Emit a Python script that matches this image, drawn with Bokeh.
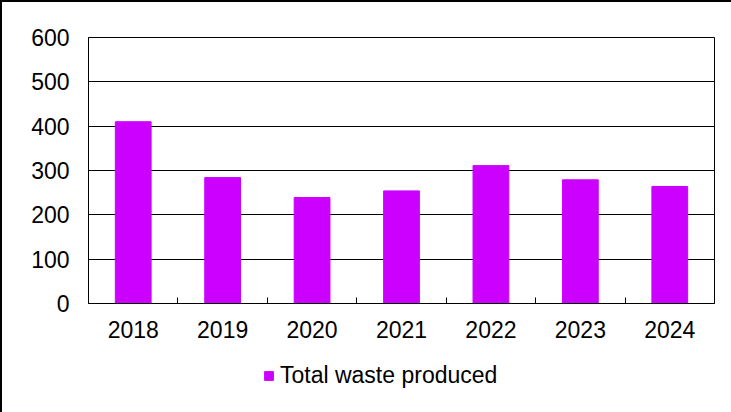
from bokeh.plotting import figure
from bokeh.layouts import column
from bokeh.models import FixedTicker, Legend, LegendItem, Range1d
from bokeh.embed import file_html
from bokeh.resources import INLINE

years = ["2018", "2019", "2020", "2021", "2022", "2023", "2024"]
waste = [410, 284, 239, 254, 311, 279, 264]
y_ticks = [0, 100, 200, 300, 400, 500, 600]
series_name = "Total waste produced"

FONT = "Liberation Sans"
FSIZE = "23px"
BAR = "#CC00FF"

xs = [i + 0.5 for i in range(len(years))]

p = figure(frame_width=626, frame_height=266, output_backend="svg", toolbar_location=None,
           x_range=Range1d(0, len(years)), y_range=Range1d(0, 600),
           min_border_left=86, min_border_right=17, min_border_top=35, min_border_bottom=50)

r = p.vbar(x=xs, top=waste, width=0.4, fill_color=BAR, line_color=BAR)

p.outline_line_color = "black"
p.outline_line_width = 1
p.background_fill_color = "white"
p.border_fill_color = "white"

p.xgrid.visible = False
p.ygrid.grid_line_color = "black"
p.ygrid.grid_line_width = 1
p.ygrid.ticker = FixedTicker(ticks=y_ticks)

xa = p.xaxis[0]
xa.ticker = FixedTicker(ticks=xs, minor_ticks=list(range(1, len(years))))
xa.major_label_overrides = {x: y for x, y in zip(xs, years)}
xa.major_tick_in = 0
xa.major_tick_out = 0
xa.minor_tick_in = 6
xa.minor_tick_out = 0
xa.minor_tick_line_color = "black"
xa.axis_line_color = "black"
xa.major_label_text_font = FONT
xa.major_label_text_font_size = FSIZE
xa.major_label_text_color = "black"
xa.major_label_standoff = 17

ya = p.yaxis[0]
ya.ticker = FixedTicker(ticks=y_ticks)
ya.major_tick_in = 0
ya.major_tick_out = 0
ya.minor_tick_in = 0
ya.minor_tick_out = 0
ya.axis_line_color = "black"
ya.major_label_text_font = FONT
ya.major_label_text_font_size = FSIZE
ya.major_label_text_color = "black"
ya.major_label_standoff = 19

# legend strip below the chart (same series, hidden renderer drives the swatch)
p2 = figure(width=729, height=59, output_backend="svg", toolbar_location=None,
            x_axis_location=None, y_axis_location=None,
            x_range=Range1d(0, len(years)), y_range=Range1d(0, 600),
            min_border_left=0, min_border_right=0, min_border_top=0, min_border_bottom=0)
p2.grid.visible = False
p2.outline_line_color = None
p2.border_fill_color = "white"
r2 = p2.vbar(x=xs, top=waste, width=0.4, fill_color=BAR, line_color=BAR, visible=False)

legend = Legend(items=[LegendItem(label=series_name, renderers=[r2])],
                location=(175, 23), orientation="horizontal",
                label_text_font=FONT, label_text_font_size=FSIZE,
                label_text_color="black", glyph_width=11, glyph_height=11,
                label_standoff=6, border_line_color=None, background_fill_alpha=0,
                inactive_fill_alpha=0, click_policy="none",
                padding=4, margin=0, spacing=0)
p2.add_layout(legend, "center")

layout = column(p, p2, spacing=0)
layout.styles = {"border-left": "2px solid black", "border-top": "2px solid black"}

open("out.html", "w").write(file_html(layout, INLINE))
